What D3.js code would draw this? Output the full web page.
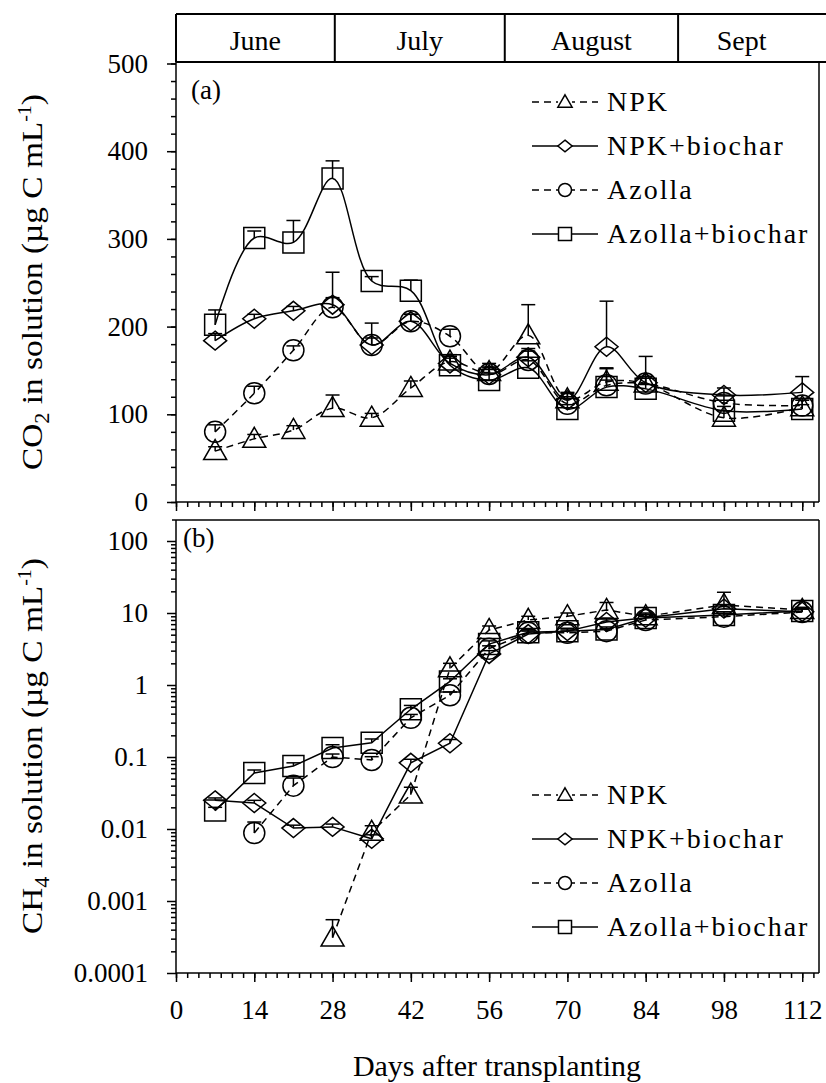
<!DOCTYPE html>
<html><head><meta charset="utf-8">
<script src="https://cdn.jsdelivr.net/npm/d3@7"></script>
<style>
body{margin:0;background:#fff}
svg text{font-family:"Liberation Serif","Times New Roman",serif;fill:#000}
</style>
</head><body>
<svg id="chart" width="826" height="1083"></svg>
<script>
// ---------- data ----------
const days = [7,14,21,28,35,42,49,56,63,70,77,84,98,112];
const seriesNames = ["NPK","NPK+biochar","Azolla","Azolla+biochar"];
const months = ["June","July","August","Sept"];
const monthBounds = [0, 28.4, 58.8, 89.8, 112.5];
const xTicks = [0,14,28,42,56,70,84,98,112];
const co2Ticks = [0,100,200,300,400,500];
const ch4Ticks = [0.0001,0.001,0.01,0.1,1,10,100];
const ch4TickLabels = ["0.0001","0.001","0.01","0.1","1","10","100"];

// CO2 (µg C mL-1)
const co2NPK      = [58, 72, 82, 107, 96, 130, 160, 148, 190, 117, 137, 135, 96, 108];
const co2NPKErr   = [5, 5, 5, 15, 5, 8, 8, 10, 35, 8, 15, 8, 8, 8];
const co2NPKB     = [184, 209, 218, 225, 179, 206, 158, 145, 165, 116, 177, 136, 122, 125];
const co2NPKBErr  = [8, 5, 5, 8, 8, 8, 8, 8, 10, 8, 52, 30, 8, 18];
const co2Az       = [80, 124, 173, 222, 179, 206, 189, 146, 162, 112, 133, 135, 113, 110];
const co2AzErr    = [8, 8, 5, 40, 25, 8, 8, 8, 10, 8, 20, 8, 8, 8];
const co2AzB      = [202, 301, 296, 369, 252, 241, 156, 139, 153, 106, 131, 129, 104, 106];
const co2AzBErr   = [17, 8, 25, 20, 5, 12, 8, 8, 8, 5, 8, 5, 5, 5];

// CH4 (µg C mL-1)
const ch4NPK      = [null, null, null, 0.00031, 0.0091, 0.030, 1.7, 5.8, 8.0, 9.0, 11, 9.0, 12.9, 11];
const ch4NPKErr   = [null, null, null, 0.00024, 0.002, 0.008, 0.3, 0.8, 1, 1, 3, 1, 6.5, 1];
const ch4NPKB     = [0.025, 0.023, 0.0103, 0.0107, 0.0073, 0.083, 0.155, 2.7, 5.1, 5.6, 7.5, 8.6, 11.5, 10.4];
const ch4NPKBErr  = [0.002, 0.002, 0.001, 0.001, 0.001, 0.01, 0.02, 0.3, 0.5, 0.5, 1, 1, 1, 1];
const ch4Az       = [null, 0.0088, 0.040, 0.10, 0.091, 0.35, 0.72, 3.2, 5.3, 5.3, 5.6, 8.0, 8.9, 10.3];
const ch4AzErr    = [null, 0.0037, 0.011, 0.01, 0.01, 0.04, 0.08, 0.3, 0.5, 0.5, 0.5, 1, 1, 1];
const ch4AzB      = [0.018, 0.060, 0.075, 0.133, 0.158, 0.46, 1.12, 3.7, 5.4, 5.6, 5.9, 8.5, 9.4, 10.7];
const ch4AzBErr   = [0.002, 0.006, 0.008, 0.015, 0.02, 0.06, 0.1, 0.4, 0.5, 0.5, 0.5, 1, 1, 1];

// ---------- build ----------
const styles = [
  {name:seriesNames[0], marker:"tri", dash:"7,5"},
  {name:seriesNames[1], marker:"dia", dash:null},
  {name:seriesNames[2], marker:"cir", dash:"7,5"},
  {name:seriesNames[3], marker:"sq",  dash:null}
];
const co2Series = [[co2NPK,co2NPKErr],[co2NPKB,co2NPKBErr],[co2Az,co2AzErr],[co2AzB,co2AzBErr]];
const ch4Series = [[ch4NPK,ch4NPKErr],[ch4NPKB,ch4NPKBErr],[ch4Az,ch4AzErr],[ch4AzB,ch4AzBErr]];

const svg = d3.select("#chart");
const X0 = 176, X1 = 819;
const x = d3.scaleLinear().domain([0,115]).range([X0, X1]);
const yA = d3.scaleLinear().domain([0,500]).range([502, 63.5]);
const yB = d3.scaleLog().domain([1e-4,100]).range([973, 541]);
const aTop = 62, aBot = 502, bTop = 520, bBot = 973;
const FS = 27;

function markerPath(type, k){
  k = k||1;
  if(type==="sq"){const s=10.5*k; return `M${-s},${-s}H${s}V${s}H${-s}Z`;}
  if(type==="cir"){const r=10.5*k; return `M${r},0A${r},${r} 0 1,1 ${-r},0A${r},${r} 0 1,1 ${r},0Z`;}
  if(type==="tri"){const w=11.5*k, h=20*k; return `M0,${-h*0.58}L${w},${h*0.42}L${-w},${h*0.42}Z`;}
  if(type==="dia"){const w=11.5*k, h=9.5*k; return `M0,${-h}L${w},0L0,${h}L${-w},0Z`;}
}

function drawSeries(g, series, y, curve){
  series.forEach((s,i)=>{
    const st = styles[i];
    const pts = days.map((d,j)=>({d, v:s[0][j], e:s[1][j]})).filter(p=>p.v!=null);
    const line = d3.line().x(p=>x(p.d)).y(p=>y(p.v)).curve(curve);
    g.append("path").attr("d", line(pts)).attr("fill","none").attr("stroke","#000")
      .attr("stroke-width",1.5).attr("stroke-dasharray", st.dash);
    pts.forEach(p=>{
      if(p.e){
        const yt = y(p.v+p.e);
        g.append("line").attr("x1",x(p.d)).attr("x2",x(p.d)).attr("y1",y(p.v)).attr("y2",yt)
          .attr("stroke","#000").attr("stroke-width",1.5);
        g.append("line").attr("x1",x(p.d)-7).attr("x2",x(p.d)+7).attr("y1",yt).attr("y2",yt)
          .attr("stroke","#000").attr("stroke-width",1.5);
      }
    });
    g.selectAll(null).data(pts).enter().append("path")
      .attr("d", markerPath(st.marker))
      .attr("transform", p=>`translate(${x(p.d)},${y(p.v)})`)
      .attr("fill","none").attr("stroke","#000").attr("stroke-width",1.5);
  });
}

function styleAxis(g){
  g.selectAll("path.domain").remove();
  g.selectAll("line").attr("stroke","#000").attr("stroke-width",1.5);
  g.selectAll("text").attr("font-family",'"Liberation Serif","Times New Roman",serif')
    .attr("font-size",FS).attr("fill","#000");
}

// ---- header ----
const hdr = svg.append("g");
hdr.append("line").attr("x1",X0).attr("x2",826).attr("y1",14).attr("y2",14).attr("stroke","#000").attr("stroke-width",2);
hdr.append("line").attr("x1",X0).attr("x2",826).attr("y1",aTop).attr("y2",aTop).attr("stroke","#000").attr("stroke-width",2);
monthBounds.slice(0,4).forEach(b=>{
  hdr.append("line").attr("x1",x(b)).attr("x2",x(b)).attr("y1",14).attr("y2",aTop).attr("stroke","#000").attr("stroke-width",2);
});
months.forEach((m,i)=>{
  hdr.append("text").attr("x",(x(monthBounds[i])+x(monthBounds[i+1]))/2).attr("y",50)
    .attr("text-anchor","middle").attr("font-size",28).text(m);
});

// ---- panel a ----
const ga = svg.append("g");
ga.append("line").attr("x1",X1).attr("x2",X1).attr("y1",aTop).attr("y2",aBot).attr("stroke","#000").attr("stroke-width",1.5);
ga.append("line").attr("x1",X0).attr("x2",X0).attr("y1",aTop).attr("y2",aBot).attr("stroke","#000").attr("stroke-width",1.5);
ga.append("line").attr("x1",X0).attr("x2",X1).attr("y1",aBot).attr("y2",aBot).attr("stroke","#000").attr("stroke-width",1.5);
const aMinor = d3.range(0,501,20);
styleAxis(ga.append("g").attr("transform",`translate(${X0},0)`).call(d3.axisLeft(yA).tickValues(aMinor).tickSize(5).tickFormat("")));
styleAxis(ga.append("g").attr("transform",`translate(${X0},0)`).call(d3.axisLeft(yA).tickValues(co2Ticks).tickSize(9).tickPadding(19).tickFormat(d3.format("d"))));
const xMinor = d3.range(0,115,2);
styleAxis(ga.append("g").attr("transform",`translate(0,${aBot})`).call(d3.axisBottom(x).tickValues(xMinor).tickSize(5).tickFormat("")));
styleAxis(ga.append("g").attr("transform",`translate(0,${aBot})`).call(d3.axisBottom(x).tickValues(xTicks).tickSize(9).tickFormat("")));
drawSeries(ga.append("g"), co2Series, yA, d3.curveCatmullRom.alpha(0.5));
ga.append("text").attr("x",191).attr("y",99).attr("font-size",FS).text("(a)");

// ---- panel b ----
const gb = svg.append("g");
gb.append("line").attr("x1",X0-4).attr("x2",X1).attr("y1",bTop).attr("y2",bTop).attr("stroke","#000").attr("stroke-width",1.5);
gb.append("line").attr("x1",X1).attr("x2",X1).attr("y1",bTop).attr("y2",bBot).attr("stroke","#000").attr("stroke-width",1.5);
gb.append("line").attr("x1",X0).attr("x2",X0).attr("y1",bTop).attr("y2",bBot).attr("stroke","#000").attr("stroke-width",1.5);
gb.append("line").attr("x1",X0).attr("x2",X1).attr("y1",bBot).attr("y2",bBot).attr("stroke","#000").attr("stroke-width",1.5);
const bMinor = [];
ch4Ticks.forEach(t=>{ for(let k=2;k<=9;k++){ const v=t*k; if(yB(v)>=bTop) bMinor.push(v);} });
styleAxis(gb.append("g").attr("transform",`translate(${X0},0)`).call(d3.axisLeft(yB).tickValues(bMinor).tickSize(5).tickFormat("")));
styleAxis(gb.append("g").attr("transform",`translate(${X0},0)`).call(d3.axisLeft(yB).tickValues(ch4Ticks).tickSize(9).tickPadding(19).tickFormat((d,i)=>ch4TickLabels[i])));
styleAxis(gb.append("g").attr("transform",`translate(0,${bBot})`).call(d3.axisBottom(x).tickValues(xMinor).tickSize(5).tickFormat("")));
styleAxis(gb.append("g").attr("transform",`translate(0,${bBot})`).call(d3.axisBottom(x).tickValues(xTicks).tickSize(9).tickPadding(18).tickFormat(d3.format("d"))));
drawSeries(gb.append("g"), ch4Series, yB, d3.curveLinear);
gb.append("text").attr("x",183).attr("y",547).attr("font-size",FS).text("(b)");

// ---- legends ----
function legend(y0){
  const g = svg.append("g");
  styles.forEach((st,i)=>{
    const yy = y0 + i*44;
    g.append("line").attr("x1",532).attr("x2",598).attr("y1",yy).attr("y2",yy)
      .attr("stroke","#000").attr("stroke-width",1.5).attr("stroke-dasharray",st.dash);
    if(st.dash){
      g.append("rect").attr("x",558).attr("y",yy-8).attr("width",14).attr("height",16).attr("fill","#fff");
    }
    g.append("path").attr("d",markerPath(st.marker,0.62)).attr("transform",`translate(565,${yy})`)
      .attr("fill","#fff").attr("stroke","#000").attr("stroke-width",1.5);
    g.append("text").attr("x",607).attr("y",yy+9).attr("font-size",28).attr("letter-spacing","2px").text(st.name);
  });
}
legend(102);
legend(795);

// ---- axis titles ----
function yTitle(cx, cy, mol, sub){
  const t = svg.append("text").attr("transform",`translate(${cx},${cy}) rotate(-90)`)
    .attr("text-anchor","middle").attr("font-size",30)
    .attr("textLength",376).attr("lengthAdjust","spacingAndGlyphs");
  t.append("tspan").text(mol);
  t.append("tspan").attr("font-size",20).attr("dy",7).text(sub);
  t.append("tspan").attr("dy",-7).text(" in solution (µg C mL");
  t.append("tspan").attr("font-size",18).attr("dy",-11).text("-1");
  t.append("tspan").attr("dy",11).text(")");
}
yTitle(42, 282, "CO", "2");
yTitle(42, 746, "CH", "4");
svg.append("text").attr("x",497).attr("y",1076).attr("text-anchor","middle").attr("font-size",30).text("Days after transplanting");
</script>
</body></html>
